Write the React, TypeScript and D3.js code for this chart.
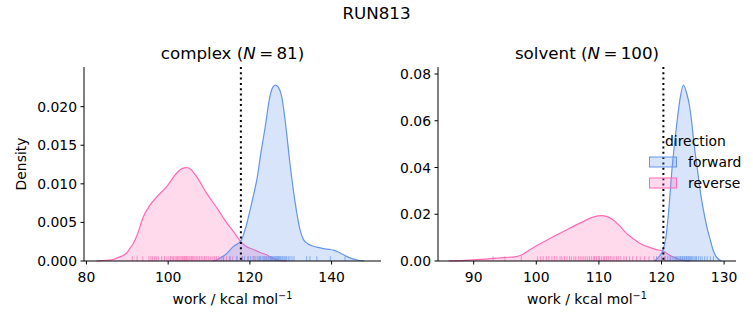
import React from "react";
import * as d3 from "d3";

// ---------- data ----------
const suptitle = "RUN813";
const panelNames = ["complex", "solvent"];
const panelN = [81, 100];
const hueLevels = ["forward", "reverse"];

// KDE curves (x = work, y = density)
const complexForwardX = [111.0, 112.0, 114.0, 116.0, 117.8, 118.8, 120.0, 121.0, 121.7, 122.7, 123.7, 124.9, 125.6, 126.3, 127.0, 127.8, 128.8, 129.8, 130.7, 131.5, 132.3, 133.1, 134.0, 135.0, 136.4, 138.0, 139.6, 140.5, 141.5, 142.6, 143.7, 145.0, 146.5, 148.0];
const complexForwardY = [0, 0.0002, 0.0008, 0.0019, 0.0026, 0.004, 0.0065, 0.0088, 0.0105, 0.014, 0.0172, 0.0213, 0.0225, 0.0228, 0.0225, 0.0213, 0.0175, 0.0127, 0.009, 0.0062, 0.004, 0.0028, 0.0023, 0.002, 0.0018, 0.0016, 0.0015, 0.0014, 0.0012, 0.0009, 0.0006, 0.0003, 0.0001, 0];
const complexReverseX = [82.5, 85.0, 86.5, 88.0, 89.8, 90.6, 91.5, 92.5, 93.9, 95.5, 97.2, 99.6, 102.1, 103.5, 104.5, 105.5, 107.0, 109.4, 112.3, 114.0, 116.0, 117.8, 119.0, 120.9, 122.5, 124.1, 125.5, 127.0, 129.0];
const complexReverseY = [0, 0.0001, 0.0002, 0.0005, 0.001, 0.0016, 0.0023, 0.0035, 0.0057, 0.0072, 0.0083, 0.0096, 0.0114, 0.012, 0.0121, 0.0119, 0.0109, 0.0088, 0.0066, 0.0052, 0.0038, 0.0025, 0.0019, 0.0015, 0.0011, 0.0008, 0.0004, 0.0001, 0];
const solventForwardX = [118.9, 119.5, 120.2, 120.7, 121.1, 121.7, 122.5, 123.0, 123.5, 124.0, 124.5, 124.8, 125.2, 125.7, 126.3, 126.9, 127.3, 127.7, 128.2, 128.7, 129.3, 129.6];
const solventForwardY = [0, 0.0015, 0.0045, 0.01, 0.02, 0.04, 0.06, 0.07, 0.0753, 0.072, 0.066, 0.06, 0.05, 0.04, 0.028, 0.019, 0.014, 0.01, 0.005, 0.002, 0.0004, 0];
const solventReverseX = [86.0, 88.0, 90.0, 93.1, 95.0, 96.8, 97.8, 98.6, 100.5, 102.7, 104.8, 106.9, 109.1, 110.4, 111.3, 112.3, 113.4, 114.4, 115.5, 116.5, 118.6, 119.5, 120.2, 121.0, 121.8, 122.6, 123.4, 124.5];
const solventReverseY = [0, 0.0002, 0.0005, 0.0011, 0.0015, 0.0019, 0.0028, 0.0042, 0.0072, 0.0104, 0.0133, 0.0161, 0.0188, 0.0194, 0.019, 0.0175, 0.0148, 0.0118, 0.0095, 0.0076, 0.0054, 0.0047, 0.0044, 0.003, 0.0018, 0.0009, 0.0004, 0];

// rug samples
const complexForwardRug = [113.5, 115.2, 116.8, 118.1, 118.7, 119.6, 120.2, 120.8, 121.3, 121.8, 122.2, 122.6, 123.0, 123.3, 123.6, 123.9, 124.2, 124.5, 124.7, 125.0, 125.2, 125.5, 125.7, 126.0, 126.2, 126.4, 126.6, 126.8, 127.0, 127.2, 127.4, 127.6, 127.9, 128.1, 128.4, 128.7, 129.0, 129.4, 129.8, 130.3, 130.8, 133.9, 134.7, 136.4, 139.7, 143.3];
const complexReverseRug = [91.2, 92.4, 93.8, 95.3, 95.8, 96.2, 96.7, 97.1, 97.6, 98.4, 99.1, 99.7, 100.2, 100.6, 101.0, 101.3, 101.7, 102.0, 102.3, 102.6, 102.9, 103.2, 103.5, 103.8, 104.0, 104.3, 104.5, 104.8, 105.1, 105.4, 105.7, 106.0, 106.3, 106.6, 107.0, 107.3, 107.7, 108.1, 108.5, 108.9, 109.3, 109.8, 110.3, 110.8, 111.3, 111.8, 112.4, 113.0, 113.6, 114.3, 115.0, 115.8, 116.9, 118.2, 119.5, 121.0, 122.4, 124.0, 125.3];
const solventForwardRug = [119.2, 120.0, 120.6, 121.0, 121.4, 121.7, 122.0, 122.2, 122.4, 122.6, 122.8, 123.0, 123.1, 123.3, 123.4, 123.6, 123.7, 123.9, 124.0, 124.2, 124.3, 124.5, 124.6, 124.8, 125.0, 125.2, 125.4, 125.6, 125.9, 126.2, 126.5, 126.9, 127.3, 127.8, 128.3];
const solventReverseRug = [93.1, 95.0, 97.6, 100.2, 100.7, 101.1, 101.6, 102.0, 102.5, 102.9, 103.3, 103.8, 104.1, 104.5, 104.9, 105.3, 105.6, 106.0, 106.3, 106.7, 107.0, 107.3, 107.6, 107.9, 108.2, 108.5, 108.8, 109.1, 109.3, 109.6, 109.9, 110.1, 110.4, 110.7, 110.9, 111.2, 111.5, 111.8, 112.1, 112.4, 112.8, 113.1, 113.5, 114.0, 114.4, 114.9, 115.4, 116.0, 116.6, 117.3, 118.0, 118.8, 119.6, 120.5, 121.4];

// dotted reference lines
const refLines = [117.8, 120.3];

// tick labels
const complexXTicks = [80, 100, 120, 140];
const complexYTicks = [0, 0.005, 0.01, 0.015, 0.02];
const solventXTicks = [90, 100, 110, 120, 130];
const solventYTicks = [0, 0.02, 0.04, 0.06, 0.08];

// ---------- styles ----------
const FONT = "'DejaVu Sans', sans-serif";
const COLORS = { forward: "#6495ED", reverse: "#FF69B4" };

type Curve = { x: number[]; y: number[] };
type Panel = {
  name: string;
  n: number;
  curves: { forward: Curve; reverse: Curve };
  rugs: { forward: number[]; reverse: number[] };
  ref: number;
  xTicks: number[];
  yTicks: number[];
  yFmt: string;
  xDomain: [number, number];
  yMax: number;
  left: number;
  right: number;
  showYLabel: boolean;
};

const panels: Panel[] = [
  {
    name: panelNames[0],
    n: panelN[0],
    curves: {
      forward: { x: complexForwardX, y: complexForwardY },
      reverse: { x: complexReverseX, y: complexReverseY },
    },
    rugs: { forward: complexForwardRug, reverse: complexReverseRug },
    ref: refLines[0],
    xTicks: complexXTicks,
    yTicks: complexYTicks,
    yFmt: ".3f",
    xDomain: [79.4, 152.1],
    yMax: 0.02514,
    left: 84,
    right: 381,
    showYLabel: true,
  },
  {
    name: panelNames[1],
    n: panelN[1],
    curves: {
      forward: { x: solventForwardX, y: solventForwardY },
      reverse: { x: solventReverseX, y: solventReverseY },
    },
    rugs: { forward: solventForwardRug, reverse: solventReverseRug },
    ref: refLines[1],
    xTicks: solventXTicks,
    yTicks: solventYTicks,
    yFmt: ".2f",
    xDomain: [84.3, 131.9],
    yMax: 0.083,
    left: 438,
    right: 736,
    showYLabel: false,
  },
];

const TOP = 67;
const BOTTOM = 261;

function PanelView({ p }: { p: Panel }) {
  const x = d3.scaleLinear().domain(p.xDomain).range([p.left, p.right]);
  const y = d3.scaleLinear().domain([0, p.yMax]).range([BOTTOM, TOP]);
  const fmt = d3.format(p.yFmt);
  const cx = (p.left + p.right) / 2;
  const rugH = (BOTTOM - TOP) * 0.025;

  const mk = (c: Curve) => {
    const pts: [number, number][] = c.x.map((v, i) => [v, c.y[i]]);
    const area = d3
      .area<[number, number]>()
      .x((d) => x(d[0]))
      .y0(y(0))
      .y1((d) => y(d[1]))
      .curve(d3.curveMonotoneX)(pts) as string;
    const line = d3
      .line<[number, number]>()
      .x((d) => x(d[0]))
      .y((d) => y(d[1]))
      .curve(d3.curveMonotoneX)(pts) as string;
    return { area, line };
  };

  return (
    <g>
      {(["reverse", "forward"] as const).map((k) => {
        const { area, line } = mk(p.curves[k]);
        return (
          <g key={k}>
            <path d={area} fill={COLORS[k]} fillOpacity={0.25} stroke="none" />
            <path d={line} fill="none" stroke={COLORS[k]} strokeWidth={1.2} />
          </g>
        );
      })}
      {(["reverse", "forward"] as const).map((k) => (
        <g key={"rug" + k}>
          {p.rugs[k].map((v, i) => (
            <line
              key={i}
              x1={x(v)}
              x2={x(v)}
              y1={BOTTOM}
              y2={BOTTOM - rugH}
              stroke={COLORS[k]}
              strokeOpacity={0.7}
              strokeWidth={1}
            />
          ))}
        </g>
      ))}
      {/* reference line */}
      <line
        x1={x(p.ref)}
        x2={x(p.ref)}
        y1={TOP}
        y2={BOTTOM}
        stroke="#000"
        strokeWidth={2}
        strokeDasharray="2,3.3"
      />
      {/* spines */}
      <line x1={p.left} x2={p.left} y1={TOP} y2={BOTTOM} stroke="#000" strokeWidth={1} />
      <line x1={p.left} x2={p.right} y1={BOTTOM} y2={BOTTOM} stroke="#000" strokeWidth={1} />
      {/* x ticks */}
      {p.xTicks.map((t) => (
        <g key={"x" + t}>
          <line x1={x(t)} x2={x(t)} y1={BOTTOM} y2={BOTTOM + 3.5} stroke="#000" strokeWidth={1} />
          <text x={x(t)} y={282} textAnchor="middle" fontSize={13.9} fontFamily={FONT} fill="#000">
            {t}
          </text>
        </g>
      ))}
      {/* y ticks */}
      {p.yTicks.map((t) => (
        <g key={"y" + t}>
          <line x1={p.left - 3.5} x2={p.left} y1={y(t)} y2={y(t)} stroke="#000" strokeWidth={1} />
          <text
            x={p.left - 7}
            y={y(t) + 5}
            textAnchor="end"
            fontSize={13.9}
            fontFamily={FONT}
            fill="#000"
          >
            {fmt(t)}
          </text>
        </g>
      ))}
      {/* title */}
      <text x={cx} y={59} textAnchor="middle" fontSize={16.7} fontFamily={FONT} fill="#000">
        {p.name} (<tspan fontStyle="italic">N</tspan>{"\u2009=\u2009"}{p.n})
      </text>
      {/* x label */}
      <text x={cx} y={304} textAnchor="middle" fontSize={13.9} fontFamily={FONT} fill="#000">
        work / kcal mol
        <tspan fontSize={9.7} dy={-5}>
          −1
        </tspan>
      </text>
      {p.showYLabel && (
        <text
          transform={`translate(26, ${(TOP + BOTTOM) / 2}) rotate(-90)`}
          textAnchor="middle"
          fontSize={13.9}
          fontFamily={FONT}
          fill="#000"
        >
          Density
        </text>
      )}
    </g>
  );
}

export default function App() {
  return (
    <div style={{ position: "absolute", left: 0, top: 0, background: "#fff" }}>
      <svg width={753} height={325} viewBox="0 0 753 325" style={{ display: "block" }}>
        <rect width={753} height={325} fill="#fff" />
        <text x={376.5} y={19} textAnchor="middle" fontSize={16.7} fontFamily={FONT} fill="#000">
          {suptitle}
        </text>
        {panels.map((p) => (
          <PanelView key={p.name} p={p} />
        ))}
        {/* legend */}
        <g>
          <text x={665} y={146} fontSize={13.9} fontFamily={FONT} fill="#000">
            direction
          </text>
          {hueLevels.map((h, i) => (
            <g key={h}>
              <rect
                x={649.5}
                y={157 + i * 21}
                width={27}
                height={10}
                fill={COLORS[h as "forward" | "reverse"]}
                fillOpacity={0.25}
                stroke={COLORS[h as "forward" | "reverse"]}
                strokeWidth={1}
              />
              <text x={688} y={166.5 + i * 21} fontSize={13.9} fontFamily={FONT} fill="#000">
                {h}
              </text>
            </g>
          ))}
        </g>
      </svg>
    </div>
  );
}
